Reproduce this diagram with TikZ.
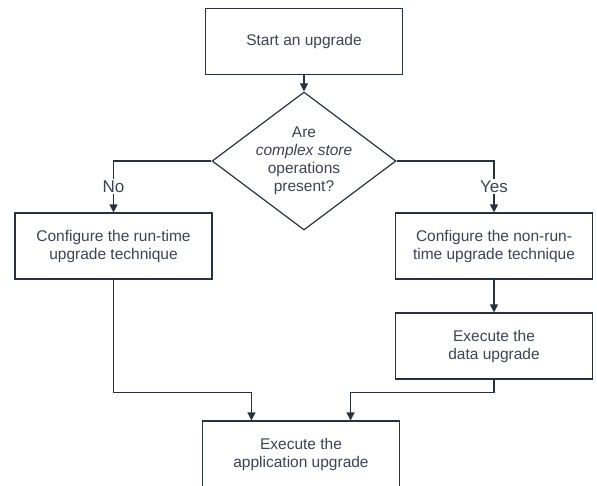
\documentclass[tikz,border=0pt]{standalone}
\usepackage{fontspec}
\setmainfont{Liberation Sans}
\usetikzlibrary{%
  arrows.meta,%
  shapes.geometric,%
  calc
}
\definecolor{lineclr}{HTML}{27323F}
\definecolor{textclr}{HTML}{3A4453}
\tikzset{
  stepbox/.style={draw=lineclr,line width=1.2pt,text=textclr,align=center,
    minimum width=197pt,minimum height=66pt,inner sep=0pt,
    font=\fontsize{15.5}{18}\selectfont},
  decision/.style={diamond,draw=lineclr,line width=1.2pt,text=textclr,align=center,
    aspect=1.33,minimum width=184pt,minimum height=138pt,inner sep=-1.5pt,
    font=\fontsize{15.5}{18}\selectfont},
  flow/.style={draw=lineclr,line width=1.2pt,-{Triangle[length=8pt,width=8pt]}},
  answer/.style={fill=white,text=textclr,inner sep=1.5pt,font=\fontsize{17}{18}\selectfont}
}
\begin{document}
\begin{tikzpicture}[x=1pt,y=-1pt]
  \useasboundingbox (0,0) rectangle (597,485);
  \node [stepbox] (start) at (304,41.5) {Start an upgrade};
  \node [decision] (complex) at (304,161) {Are\\ \textit{complex store}\\ operations\\ present?};
  \node [stepbox] (runtime) at (113.5,246) {Configure the run-time\\ upgrade technique};
  \node [stepbox] (nonruntime) at (494,246) {Configure the non-run-\\ time upgrade technique};
  \node [stepbox] (data) at (494,346) {Execute the\\ data upgrade};
  \node [stepbox] (app) at (301,454) {Execute the\\ application upgrade};
  \coordinate (inL) at ($(app.north west)!0.25!(app.north east)$);
  \coordinate (inR) at ($(app.north west)!0.75!(app.north east)$);
  % connectors
  \draw [flow] (start) -- (complex);
  \draw [flow] (complex.west) -| node [answer,pos=0.75] {No} (runtime.north);
  \draw [flow] (complex.east) -| node [answer,pos=0.75] {Yes} (nonruntime.north);
  \draw [flow] (nonruntime) -- (data);
  \draw [flow] (runtime.south) |- ([yshift=28pt]inL) -- (inL);
  \draw [flow] (data.south) |- ([yshift=28pt]inR) -- (inR);
\end{tikzpicture}
\end{document}
